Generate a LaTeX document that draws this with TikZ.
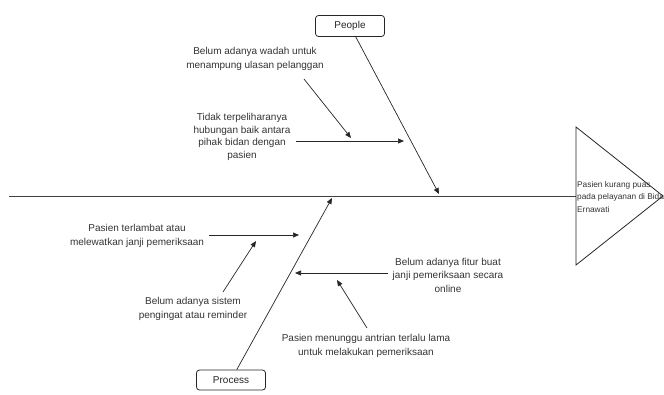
\documentclass[tikz,border=0pt]{standalone}
\usepackage{fontspec}
\setmainfont{Liberation Sans}
\usetikzlibrary{arrows.meta}
\begin{document}
\begin{tikzpicture}[x=1pt,y=-1pt,
  lbl/.style={align=center, font=\fontsize{10}{13.5}\selectfont, text=black!80, inner sep=0pt},
  catbox/.style={draw=black!85, rounded corners=3pt, minimum width=69pt, minimum height=21pt, font=\fontsize{10}{12}\selectfont, text=black!85, inner sep=0pt, line width=0.8pt},
  arr/.style={-{Triangle[length=6pt,width=5pt]}, line width=0.7pt, draw=black!85},
  bone/.style={line width=0.8pt, draw=black!75}]
\clip (0,0) rectangle (664,394);
\useasboundingbox (0,0) rectangle (664,394);

% spine and head
\coordinate (spineL) at (9,196);
\coordinate (headL) at (576,196);
\coordinate (headT) at (576,127);
\coordinate (headB) at (576,265);
\coordinate (headA) at (663,196);
\draw[bone] (spineL) -- (headL);
\draw[line width=0.8pt, black!85] (headT) -- (headA) -- (headB) -- cycle;
\node[anchor=west, align=left, font=\fontsize{8.3}{12.5}\selectfont, text=black!80, inner sep=0pt] (head) at (577,197) {Pasien kurang puas\\pada pelayanan di Bidan\\Ernawati};

% categories
\node[catbox] (people) at (350,26) {People};
\node[catbox, minimum height=20pt] (process) at (231,380) {Process};
\coordinate (pTip) at (439,194);
\coordinate (prTip) at (332,198);
\draw[arr] (people) -- (pTip);
\draw[arr] (process) -- (prTip);

% causes
\node[lbl] (t1) at (255,59) {Belum adanya wadah untuk\\menampung ulasan pelanggan};
\node[lbl, font=\fontsize{10}{12.8}\selectfont] (t2) at (242,137) {Tidak terpeliharanya\\hubungan baik antara\\pihak bidan dengan\\pasien};
\node[lbl] (t3) at (137,236) {Pasien terlambat atau\\melewatkan janji pemeriksaan};
\node[lbl] (t4) at (193,309) {Belum adanya sistem\\pengingat atau reminder};
\node[lbl] (t5) at (448,275) {Belum adanya fitur buat\\janji pemeriksaan secara\\online};
\node[lbl] (t6) at (366,346) {Pasien menunggu antrian terlalu lama\\untuk melakukan pemeriksaan};

\coordinate (a1s) at (304,79);  \coordinate (a1e) at (351,138);
\coordinate (a2s) at (296,141); \coordinate (a2e) at (404,141);
\coordinate (a3s) at (209,235); \coordinate (a3e) at (299,235);
\coordinate (a4s) at (223,292); \coordinate (a4e) at (256,241);
\coordinate (a5s) at (388,273); \coordinate (a5e) at (295,273);
\coordinate (a6s) at (367,328); \coordinate (a6e) at (337,280);
\draw[arr] (a1s) -- (a1e);
\draw[arr] (a2s) -- (a2e);
\draw[arr] (a3s) -- (a3e);
\draw[arr] (a4s) -- (a4e);
\draw[arr] (a5s) -- (a5e);
\draw[arr] (a6s) -- (a6e);
\end{tikzpicture}
\end{document}
